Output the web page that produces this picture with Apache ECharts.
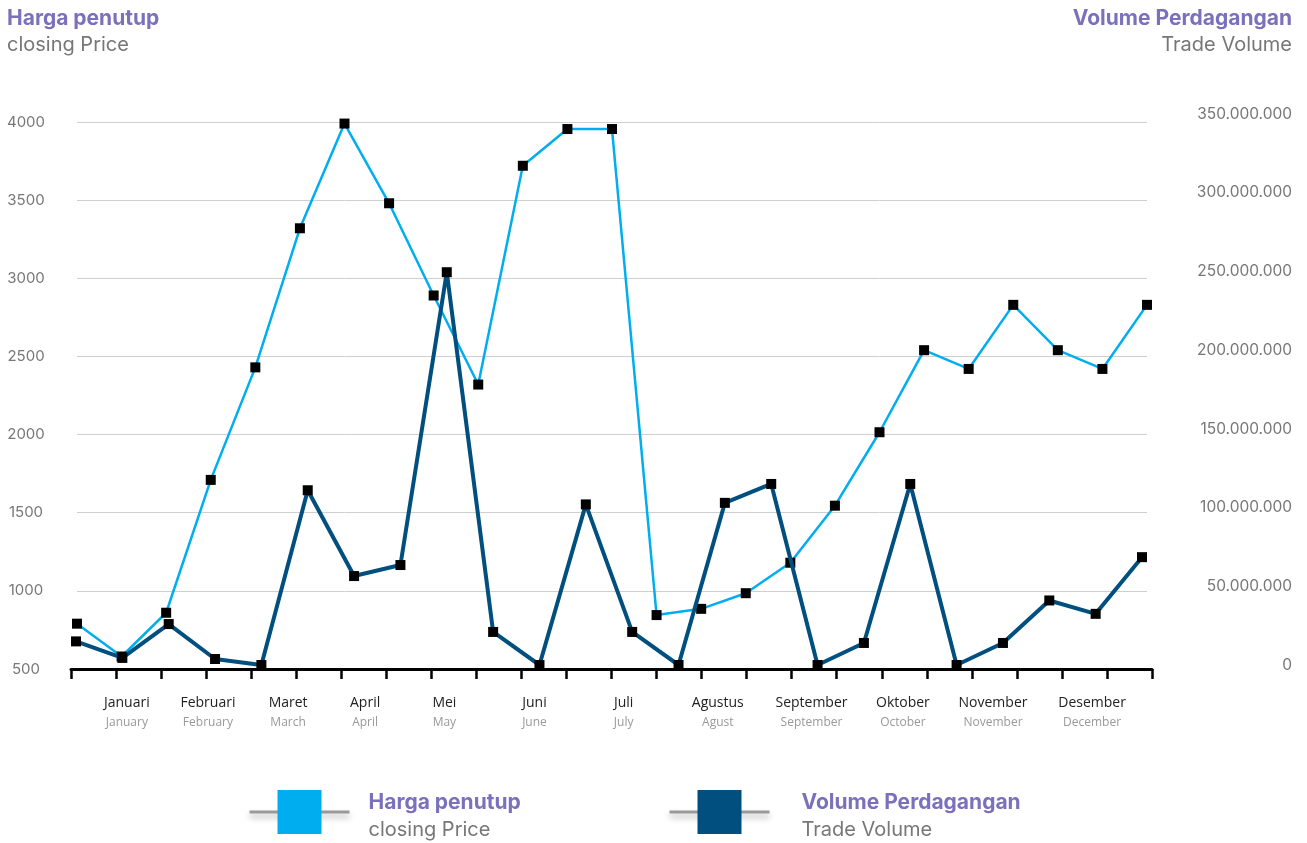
<!DOCTYPE html>
<html><head><meta charset="utf-8">
<script src="https://cdn.jsdelivr.net/npm/echarts@6/dist/echarts.min.js"></script>
<style>html,body{margin:0;padding:0;background:#fff}#c{width:1307px;height:843px}</style>
</head><body><div id="c"></div>
<script>
// Month labels (Indonesian / English) and their positions on the tick scale (0..24)
const monthsId = ['Januari','Februari','Maret','April','Mei','Juni','Juli','Agustus','September','Oktober','November','Desember'];
const monthsEn = ['January','February','March','April','May','June','July','Agust','September','October','November','December'];
const monthPos = [1.24, 3.04, 4.82, 6.53, 8.29, 10.29, 12.27, 14.36, 16.44, 18.47, 20.47, 22.67];

// Closing price (25 observations)
const priceCats = ['p1','p2','p3','p4','p5','p6','p7','p8','p9','p10','p11','p12','p13','p14','p15','p16','p17','p18','p19','p20','p21','p22','p23','p24','p25'];
const priceValues = [790, 580, 860, 1710, 2430, 3320, 3990, 3480, 2890, 2320, 3720, 3955, 3955, 845, 885, 985, 1180, 1545, 2015, 2540, 2420, 2830, 2540, 2420, 2830];

// Trade volume (24 observations)
const volumeCats = ['v1','v2','v3','v4','v5','v6','v7','v8','v9','v10','v11','v12','v13','v14','v15','v16','v17','v18','v19','v20','v21','v22','v23','v24'];
const volumeValues = [15000000, 4500000, 26000000, 3800000, 0, 111000000, 56500000, 63500000, 249500000, 21000000, 0, 102000000, 21000000, 0, 103000000, 115000000, 0, 14000000, 115000000, 0, 14000000, 41000000, 32500000, 68500000];

// Axis ranges
const priceAxis = {min: 500, max: 4000, interval: 500};
const volumeAxis = {min: 0, max: 350000000, interval: 50000000};

const PURPLE = '#7B70BC', GREY = '#777777';
const LIGHT = '#00AEEF', DARK = '#004F7E';
const numFont = 'Inter';

function dots(v){ return String(v).replace(/\B(?=(\d{3})+(?!\d))/g, '.'); }

const titleStyle = {fontFamily: numFont, fontSize: 21, fontWeight: 'bold', color: PURPLE, lineHeight: 24};
const subStyle = {fontFamily: numFont, fontSize: 20, color: GREY, lineHeight: 24};
const legendRich = {
  a: {fontFamily: numFont, fontSize: 21, fontWeight: 'bold', color: PURPLE, lineHeight: 27},
  b: {fontFamily: numFont, fontSize: 20, color: GREY, lineHeight: 27}
};
const legendLine = {color: '#999', width: 3, shadowColor: 'rgba(0,0,0,0.3)', shadowBlur: 6, shadowOffsetY: 4};

const chart = echarts.init(document.getElementById('c'), null, {renderer:'canvas'});
chart.setOption({
  animation: false,
  backgroundColor: '#fff',
  title: [
    {text: 'Harga penutup', subtext: 'closing Price', left: 7, top: 7, padding: 0, itemGap: 2,
     textStyle: titleStyle, subtextStyle: subStyle},
    {text: 'Volume Perdagangan', subtext: 'Trade Volume', left: 'right', top: 7, padding: [0, 15, 0, 0], itemGap: 2,
     textStyle: titleStyle, subtextStyle: subStyle}
  ],
  legend: [
    {left: 248, top: 790, padding: 0, itemWidth: 100, itemHeight: 55, selectedMode: false,
     data: [{name: 'Harga penutup', itemStyle: {color: LIGHT, borderWidth: 0}, lineStyle: legendLine}],
     formatter: () => '{a|Harga penutup}\n{b|closing Price}',
     textStyle: {padding: [8, 0, 0, 14], rich: legendRich}},
    {left: 668, top: 790, padding: 0, itemWidth: 100, itemHeight: 55, selectedMode: false,
     data: [{name: 'Volume Perdagangan', itemStyle: {color: DARK, borderWidth: 0}, lineStyle: legendLine}],
     formatter: () => '{a|Volume Perdagangan}\n{b|Trade Volume}',
     textStyle: {padding: [8, 0, 0, 27], rich: legendRich}}
  ],
  grid: [
    {left: 71, right: 155, top: 122, bottom: 174},   // month axis
    {left: 77, right: 160, top: 122, bottom: 174},   // price
    {left: 76, right: 165, top: 114, bottom: 178}    // volume
  ],
  xAxis: [
    {type: 'value', gridIndex: 0, min: 0, max: 24, interval: 1,
     axisLine: {show: true, lineStyle: {color: '#000', width: 3}},
     axisTick: {show: true, length: 10, lineStyle: {color: '#000', width: 2.5}},
     splitLine: {show: false},
     axisLabel: {customValues: monthPos, margin: 24,
       formatter: v => { const i = monthPos.indexOf(v); return i < 0 ? '' : '{a|' + monthsId[i] + '}\n{b|' + monthsEn[i] + '}'; },
       rich: {a: {fontFamily: 'Open Sans', fontSize: 14, color: '#222', lineHeight: 20, align: 'center'},
              b: {fontFamily: 'Open Sans', fontSize: 12, color: '#999', lineHeight: 20, align: 'center'}}}},
    {type: 'category', gridIndex: 1, data: priceCats, boundaryGap: false, show: false},
    {type: 'category', gridIndex: 2, data: volumeCats, boundaryGap: false, show: false}
  ],
  yAxis: [
    {type: 'value', gridIndex: 0, show: false, min: 0, max: 1, splitLine: {show: false}},
    {type: 'value', gridIndex: 1, position: 'left', min: priceAxis.min, max: priceAxis.max, interval: priceAxis.interval,
     axisLine: {show: false}, axisTick: {show: false},
     splitLine: {show: true, showMinLine: false, lineStyle: {color: '#cfcfcf', width: 1}},
     axisLabel: {fontFamily: numFont, fontSize: 15, color: GREY, align: 'center', margin: 51, formatter: v => String(v)}},
    {type: 'value', gridIndex: 2, position: 'right', min: volumeAxis.min, max: volumeAxis.max, interval: volumeAxis.interval,
     axisLine: {show: false}, axisTick: {show: false}, splitLine: {show: false},
     axisLabel: {fontFamily: numFont, fontSize: 15.5, color: GREY, align: 'right', margin: 150, formatter: v => dots(v)}}
  ],
  series: [
    {name: 'Harga penutup', type: 'line', xAxisIndex: 1, yAxisIndex: 1, data: priceValues, z: 3,
     symbol: 'rect', symbolSize: 10, showAllSymbol: true,
     lineStyle: {color: LIGHT, width: 2.5}, itemStyle: {color: '#000'}},
    {name: 'Volume Perdagangan', type: 'line', xAxisIndex: 2, yAxisIndex: 2, data: volumeValues, z: 4,
     symbol: 'rect', symbolSize: 10, showAllSymbol: true,
     lineStyle: {color: DARK, width: 4}, itemStyle: {color: '#000'}}
  ]
});
</script></body></html>
